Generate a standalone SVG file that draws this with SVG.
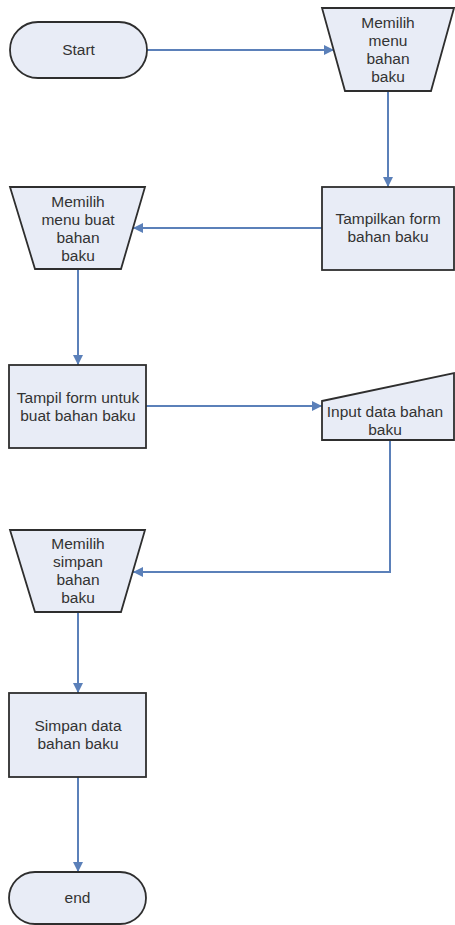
<svg xmlns="http://www.w3.org/2000/svg" width="455" height="925" viewBox="0 0 455 925">
  <style>
    .shape { fill: #e8ecf6; stroke: #2e2e2e; stroke-width: 1.8; }
    .label { font-family: "Liberation Sans", Arial, sans-serif; font-size: 15.5px; fill: #333333; text-anchor: middle; }
    .flow { fill: none; stroke: #5b80b9; stroke-width: 2; marker-end: url(#arrow); }
  </style>
  <defs>
    <marker id="arrow" viewBox="0 0 10 10" refX="10" refY="5" markerWidth="5.5" markerHeight="5" orient="auto" markerUnits="strokeWidth">
      <path d="M0,0 L10,5 L0,10 Z" fill="#5b80b9"/>
    </marker>
  </defs>
  <rect width="455" height="925" fill="#ffffff"/>

  <!-- connectors -->
  <g id="connectors">
    <path class="flow" d="M147,50 L334,50"/>
    <path class="flow" d="M388,91 L388,187"/>
    <path class="flow" d="M322,228 L133,228"/>
    <path class="flow" d="M78,269 L78,365"/>
    <path class="flow" d="M146,406 L322,406"/>
    <path class="flow" d="M390,440 L390,572 L133,572"/>
    <path class="flow" d="M78,612 L78,693"/>
    <path class="flow" d="M78,777 L78,872"/>
  </g>

  <g id="start">
    <rect class="shape" x="10" y="22" width="137" height="56" rx="28" ry="28"/>
    <text class="label" x="78.5" y="55">Start</text>
  </g>

  <g id="pilih-menu-bahan-baku">
    <path class="shape" d="M322,8 L454,8 L431,91 L345,91 Z"/>
    <text class="label" x="388" y="28">Memilih</text>
    <text class="label" x="388" y="46">menu</text>
    <text class="label" x="388" y="64">bahan</text>
    <text class="label" x="388" y="82">baku</text>
  </g>

  <g id="tampilkan-form">
    <rect class="shape" x="322" y="187" width="132" height="83"/>
    <text class="label" x="388" y="224">Tampilkan form</text>
    <text class="label" x="388" y="242">bahan baku</text>
  </g>

  <g id="pilih-menu-buat">
    <path class="shape" d="M10,187 L145,187 L121,269 L35,269 Z"/>
    <text class="label" x="78" y="206.5">Memilih</text>
    <text class="label" x="78" y="224.5">menu buat</text>
    <text class="label" x="78" y="242.5">bahan</text>
    <text class="label" x="78" y="260.5">baku</text>
  </g>

  <g id="tampil-form-buat">
    <rect class="shape" x="9" y="365" width="137" height="83"/>
    <text class="label" x="78" y="403">Tampil form untuk</text>
    <text class="label" x="78" y="421">buat bahan baku</text>
  </g>

  <g id="input-data">
    <path class="shape" d="M322,401 L454,373 L454,440 L322,440 Z"/>
    <text class="label" x="385" y="417">Input data bahan</text>
    <text class="label" x="385" y="435">baku</text>
  </g>

  <g id="pilih-simpan">
    <path class="shape" d="M10,530 L145,530 L121,612 L35,612 Z"/>
    <text class="label" x="78" y="549">Memilih</text>
    <text class="label" x="78" y="567">simpan</text>
    <text class="label" x="78" y="585">bahan</text>
    <text class="label" x="78" y="603">baku</text>
  </g>

  <g id="simpan-data">
    <rect class="shape" x="9" y="693" width="137" height="84"/>
    <text class="label" x="78" y="731">Simpan data</text>
    <text class="label" x="78" y="749">bahan baku</text>
  </g>

  <g id="end">
    <rect class="shape" x="9" y="872" width="137" height="52" rx="26" ry="26"/>
    <text class="label" x="77.5" y="903">end</text>
  </g>
</svg>
